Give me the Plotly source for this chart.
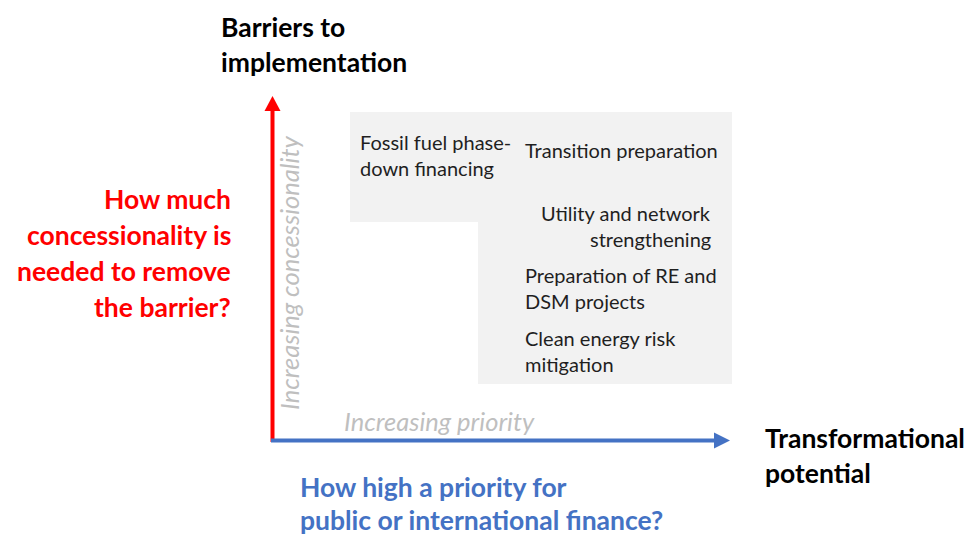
import plotly.graph_objects as go

# ---- text content ----
top_title = ["Barriers to", "implementation"]
left_question = ["How much", "concessionality is", "needed to remove", "the barrier?"]
right_title = ["Transformational", "potential"]
bottom_question = ["How high a priority for", "public or international finance?"]
y_hint = "Increasing concessionality"
x_hint = "Increasing priority"

box_items = [
    ["Fossil fuel phase-", "down financing"],
    ["Transition preparation"],
    ["Utility and network", "strengthening"],
    ["Preparation of RE and", "DSM projects"],
    ["Clean energy risk", "mitigation"],
]

# ---- layout (pixel coordinates of the final screenshot) ----
W, H = 973, 535
OFF = 8  # default page body margin in the written html
RED = "#FF0000"
BLUE = "#4472C4"
GREY_TXT = "#BFBFBF"
BOX = "#F2F2F2"
FONT = "Lato"

box_pos = [  # x, first line y, xanchor
    (358, 142, "left"),
    (523, 150, "left"),
    (713, 213, "right"),
    (523, 275, "left"),
    (523, 338, "left"),
]

fig = go.Figure()
fig.add_trace(go.Scatter(x=[OFF, W + OFF], y=[OFF, H + OFF], mode="markers", marker=dict(opacity=0),
                         hoverinfo="skip", showlegend=False))

shapes = []
shapes.append(dict(type="path", path="M350,112 L732,112 L732,384 L478,384 L478,222 L350,222 Z",
                   fillcolor=BOX, line=dict(width=0), layer="below"))
shapes.append(dict(type="line", x0=272.5, y0=442, x1=272.5, y1=108, line=dict(color=RED, width=4)))
shapes.append(dict(type="path", path="M264.5,111 L280.5,111 L272.5,96 Z", fillcolor=RED, line=dict(width=0)))
shapes.append(dict(type="line", x0=271, y0=440.5, x1=718, y1=440.5, line=dict(color=BLUE, width=4)))
shapes.append(dict(type="path", path="M714,432.5 L714,448.5 L730,440.5 Z", fillcolor=BLUE, line=dict(width=0)))

ann = []
def add_lines(lines, x, y0, dy, size, color, xanchor, bold=False, italic=False):
    for i, t in enumerate(lines):
        txt = t
        if bold:
            txt = "<b>" + txt + "</b>"
        if italic:
            txt = "<i>" + txt + "</i>"
        ann.append(dict(x=x, y=y0 + i * dy, text=txt, showarrow=False, xanchor=xanchor, yanchor="middle",
                        font=dict(family=FONT, size=size, color=color), xref="x", yref="y"))

add_lines(top_title, 219, 27, 35, 26.5, "black", "left", bold=True)
add_lines(left_question, 233, 199, 36, 26.5, RED, "right", bold=True)
add_lines(right_title, 763, 438, 35, 26.5, "black", "left", bold=True)
add_lines(bottom_question, 298, 487, 33, 26.5, BLUE, "left", bold=True)

for lines, (x, y, xa) in zip(box_items, box_pos):
    add_lines(lines, x, y, 26, 20, "#1F1F1F", xa)

add_lines([x_hint], 342, 421, 0, 25.5, GREY_TXT, "left", italic=True)
ann.append(dict(x=289, y=273, text="<i>" + y_hint + "</i>", showarrow=False, textangle=-90,
                xanchor="center", yanchor="middle", font=dict(family=FONT, size=25.5, color=GREY_TXT),
                xref="x", yref="y"))

fig.update_layout(
    width=W, height=H, margin=dict(l=0, r=0, t=0, b=0),
    paper_bgcolor="white", plot_bgcolor="white",
    xaxis=dict(range=[OFF, W + OFF], visible=False, fixedrange=True),
    yaxis=dict(range=[H + OFF, OFF], visible=False, fixedrange=True),
    shapes=shapes, annotations=ann, showlegend=False,
)
fig.write_html("out.html")
